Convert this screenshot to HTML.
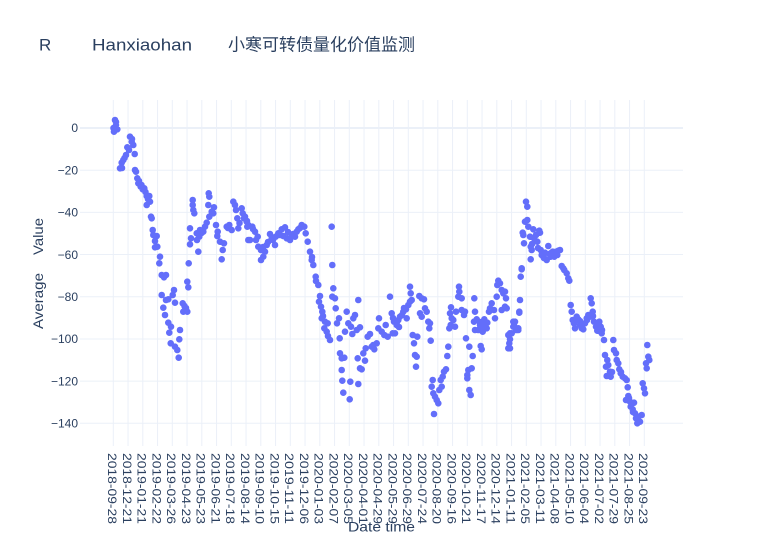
<!DOCTYPE html>
<html>
<head>
<meta charset="utf-8">
<style>
html,body{margin:0;padding:0;background:#fff;}
svg{display:block;}
text{font-family:"Liberation Sans","Noto Sans CJK SC",sans-serif;fill:#2a3f5f;}
</style>
</head>
<body>
<svg width="763" height="542" viewBox="0 0 763 542" xmlns="http://www.w3.org/2000/svg">
<rect x="0" y="0" width="763" height="542" fill="#ffffff"/>
<!-- vertical gridlines -->
<g stroke="#EBF0F8" stroke-width="1">
<line x1="113.3" y1="100" x2="113.3" y2="446"/>
<line x1="128.05" y1="100" x2="128.05" y2="446"/>
<line x1="142.8" y1="100" x2="142.8" y2="446"/>
<line x1="157.55" y1="100" x2="157.55" y2="446"/>
<line x1="172.3" y1="100" x2="172.3" y2="446"/>
<line x1="187.05" y1="100" x2="187.05" y2="446"/>
<line x1="201.8" y1="100" x2="201.8" y2="446"/>
<line x1="216.55" y1="100" x2="216.55" y2="446"/>
<line x1="231.3" y1="100" x2="231.3" y2="446"/>
<line x1="246.05" y1="100" x2="246.05" y2="446"/>
<line x1="260.8" y1="100" x2="260.8" y2="446"/>
<line x1="275.55" y1="100" x2="275.55" y2="446"/>
<line x1="290.3" y1="100" x2="290.3" y2="446"/>
<line x1="305.05" y1="100" x2="305.05" y2="446"/>
<line x1="319.8" y1="100" x2="319.8" y2="446"/>
<line x1="334.55" y1="100" x2="334.55" y2="446"/>
<line x1="349.3" y1="100" x2="349.3" y2="446"/>
<line x1="364.05" y1="100" x2="364.05" y2="446"/>
<line x1="378.8" y1="100" x2="378.8" y2="446"/>
<line x1="393.55" y1="100" x2="393.55" y2="446"/>
<line x1="408.3" y1="100" x2="408.3" y2="446"/>
<line x1="423.05" y1="100" x2="423.05" y2="446"/>
<line x1="437.8" y1="100" x2="437.8" y2="446"/>
<line x1="452.55" y1="100" x2="452.55" y2="446"/>
<line x1="467.3" y1="100" x2="467.3" y2="446"/>
<line x1="482.05" y1="100" x2="482.05" y2="446"/>
<line x1="496.8" y1="100" x2="496.8" y2="446"/>
<line x1="511.55" y1="100" x2="511.55" y2="446"/>
<line x1="526.3" y1="100" x2="526.3" y2="446"/>
<line x1="541.05" y1="100" x2="541.05" y2="446"/>
<line x1="555.8" y1="100" x2="555.8" y2="446"/>
<line x1="570.55" y1="100" x2="570.55" y2="446"/>
<line x1="585.3" y1="100" x2="585.3" y2="446"/>
<line x1="600.05" y1="100" x2="600.05" y2="446"/>
<line x1="614.8" y1="100" x2="614.8" y2="446"/>
<line x1="629.55" y1="100" x2="629.55" y2="446"/>
<line x1="644.3" y1="100" x2="644.3" y2="446"/>
</g>
<!-- horizontal gridlines -->
<g stroke="#EBF0F8" stroke-width="1">
<line x1="80" y1="170.19" x2="683" y2="170.19"/>
<line x1="80" y1="212.38" x2="683" y2="212.38"/>
<line x1="80" y1="254.56" x2="683" y2="254.56"/>
<line x1="80" y1="296.75" x2="683" y2="296.75"/>
<line x1="80" y1="338.94" x2="683" y2="338.94"/>
<line x1="80" y1="381.13" x2="683" y2="381.13"/>
<line x1="80" y1="423.31" x2="683" y2="423.31"/>
</g>
<line x1="80" y1="128" x2="683" y2="128" stroke="#EBF0F8" stroke-width="2"/>

<!-- data points -->
<path fill="none" stroke="#636efa" stroke-width="6.6" stroke-linecap="round" d="
M115 120h0M116 125h0M114 131.7h0M117.3 129.3h0M113.5 128h0M116 122h0
M130 136.7h0M131.7 141.7h0M133.3 145h0M127.3 147.3h0M134.7 154h0M126 155h0M123.3 160h0M121.7 162.7h0M120 168.3h0M122 168h0M135 170h0M136 171.7h0M124.5 158h0M129 150h0M132 139h0
M137.3 178.3h0M138.3 183.3h0M140.7 186.7h0M142.7 189.3h0M144.3 188.3h0M146.7 196h0M149.3 196h0M150 201.7h0M146.7 205h0M151 216.7h0M151.7 218.3h0M139 181h0M141.5 185h0M145.5 192h0M148 199h0
M152.7 230h0M153.3 235h0M156.7 236h0M155 241h0M157.3 246.7h0M155 247.3h0M160 256.7h0M159.3 263.3h0M161.7 275h0M166 275h0M164 277.3h0
M161.7 295h0M166 300h0M168.3 299.3h0M174 290h0M172.7 295h0M175 302.7h0M163.3 307.7h0M165 315h0M168.3 322.7h0M171 326.7h0M169.3 332.7h0M180 330h0M170.7 343.3h0M175 346.7h0M179.3 339.3h0M177.3 350h0M178.7 357.7h0
M182.7 303.3h0M185 310h0M183.3 311.7h0M187.3 311.7h0M188.3 287.3h0M187.3 281.7h0M188.7 263.3h0M190 244.3h0M191 238.3h0M190 228.3h0M192.7 200h0M193.3 210h0M194.3 213.3h0M192.7 205h0M184.5 306h0M186 308h0
M196.7 233.3h0M199.3 236.7h0M200 230h0M203.3 231.7h0M198.3 251.7h0M205 226.7h0M206.7 222.7h0M209.3 216.7h0M211.7 211.7h0M214 207.3h0M213.3 213.3h0M208.3 205h0M209.3 196.7h0M208.7 193.3h0M216 225h0M217.7 231.7h0M217.3 236h0M220 241.7h0M224 243.3h0M222.7 250h0M221.7 259.3h0M201.5 233h0M197 240h0
M226.7 226.7h0M229.3 225h0M231.7 230h0M233.3 201.7h0M235 205h0M236 210h0M237.3 218.3h0M238.3 228.3h0M241.7 208.3h0M242.7 213.3h0M244 218.3h0M246.7 221.7h0M247.3 226.7h0M248.3 240h0M228 228h0M239.5 223h0
M245 216.7h0M248.3 225h0M252.3 226.7h0M250 240h0M255 231.7h0M257.7 236.7h0M258.3 246.7h0M261 250h0M261 260h0M263.3 256.7h0M265 251.7h0M266.7 245h0M270 234h0M271.7 238.3h0M275 245h0M275.7 236.7h0M278.3 233.3h0M281.7 229.3h0M285 227.3h0M283.3 236h0M286.7 238.3h0M290 240h0M291.7 236h0M295 236.7h0M296.7 231.7h0M298.3 229.3h0M301.7 225h0M304.3 226.7h0M305.7 233.3h0M307.7 241.7h0M310 251.7h0M311.7 260h0M313.3 265h0M315.7 276.7h0M318.3 285h0M319 301.7h0M321 306.7h0M322.3 311.7h0M321.7 318.3h0M325 321.7h0M324.3 328.3h0M327.7 323.3h0M326.7 331.7h0M330 340h0M331.7 226.7h0M332.3 265h0M333.3 288.3h0M332.3 296.7h0M335 298.3h0M335.7 308.3h0M337 323.3h0M339 318.3h0M339.7 338.3h0M340 353.3h0M341.7 358.3h0M344.3 357.7h0M341.7 370h0M342.3 380.7h0M343.3 392.7h0M349.7 399.3h0M350.3 381.7h0M358.3 384h0M346.7 311.7h0M345 331.7h0M348.3 323.3h0M351 326.7h0M353.3 318.3h0M355 315h0M352.3 334h0M356.7 330h0M360 327.3h0M358.3 300h0M357.7 358.3h0M360 368.3h0M361.7 369.3h0M363.3 353.3h0M365 360.7h0M365.7 348.3h0M367.7 336.7h0M370 334h0M371.7 346.7h0M374.3 349.3h0M373.3 345h0M376.7 343.3h0M378.3 328.3h0M379 318.3h0M381.7 331.7h0M384.3 335h0M385.7 325h0M387.7 336.7h0M390 296.7h0M391.7 313.3h0M392.7 333.3h0
M273 240h0M280 235h0M288 232h0M293 234h0M300 228h0M268 242h0M263 247h0M256 240h0M253 229h0M247 221h0M312 257h0M316 281h0M320 296h0M323 316h0M328 336h0
M394 321.7h0M395 333.3h0M396.7 325h0M398.3 320h0M400 316.7h0M403.3 311.7h0M406 309.3h0M406.7 318.3h0M408.3 305h0M410 301.7h0M411.7 300h0M410 286.7h0M410.7 293.3h0M412.7 335h0M414 343.3h0M417.3 336.7h0M415 355h0M416.7 356.7h0M416 366.7h0M419.3 296h0M421.7 298.3h0M424 299.3h0M420 313.3h0M421.7 316.7h0M425 308.3h0M426.7 311.7h0M428.3 321.7h0M429.3 328.3h0M430 323.3h0M430.7 340.7h0M432.7 380h0M431.7 386.7h0M433.3 393.3h0M435 396.7h0M436.7 400h0M438.3 403.3h0M434 414h0M439.3 390h0M441.7 386.7h0M440.7 380h0M442.7 376.7h0M444 371.7h0M446 369.3h0M447.3 356h0M448.3 346.7h0M449.3 328.3h0M450.7 325h0M450 313.3h0M451.7 318.3h0M451 307.3h0M453.3 320h0M455 326.7h0M456 311.7h0M458.3 296.7h0M459.3 291.7h0M459 286.7h0M461.7 298.3h0M461.7 310h0M464 315h0M465 311.7h0M466 338.3h0M467.3 375h0M468.3 370h0M467.3 378.3h0M469.3 390h0M470.7 395h0M469.3 346.7h0M471.7 368.3h0M472.7 356h0M474 321.7h0M475 311.7h0M474.3 298.3h0M476.7 319.3h0M478.3 330h0M480 325h0M480.7 346h0M481.7 349.3h0M482.7 331.7h0M484.3 319.3h0M485 325h0M486.7 328.3h0M487.3 322.7h0M489 311.7h0M490 308.3h0M491.7 303.3h0M494 310h0M495 318.3h0M496.7 296.7h0M497.3 285h0M498.3 280.7h0M500 283.3h0M501.7 290h0M503.3 293.3h0M505 291.7h0M501.7 310h0M505 306.7h0M506 298.3h0M506.7 308.3h0M508.3 335h0M509.3 343.3h0M508.3 348.3h0M510 339.3h0M511.7 333.3h0M513.3 321.7h0M514 325h0M516 330h0M518.3 328.3h0M519.3 311.7h0M520 300h0M520.7 276.7h0M521.7 269.3h0
M402 315h0M397 322h0M393 318h0M404 308h0M399 327h0M480 322h0M483 326h0M475 330h0
M510 333.3h0M510 348.3h0M513.3 326.7h0M515 321.7h0M518.3 330h0M519.3 312.7h0M520 300h0M520.7 276.7h0M521.7 268.3h0M523.3 235h0M524 243.3h0M522.7 232.7h0M525 221.7h0M527.3 220h0M526 201.7h0M527.3 206.7h0M528.3 226.7h0M530 236.7h0M530.7 246.7h0M531.7 250h0M530.7 259.3h0M533.3 229.3h0M534 238.3h0M536 235h0M537.3 241.7h0M539.3 230.7h0M540 232.7h0M540.7 250h0M541.7 255h0M543.3 256.7h0M545 252.7h0M546.7 260h0M548.3 246h0M549.3 254h0M550.7 256.7h0M552.7 251.7h0M554.3 256.7h0M556 251.7h0M557.3 255h0M558.3 250.7h0M560 250h0M561.7 266h0M563.3 268.3h0M564.3 270h0M566.7 273.3h0M568.3 278.3h0M569.3 280.7h0M570.7 305h0M571.7 311.7h0M572.7 320h0M574 323.3h0M575 328.3h0M576.7 316.7h0M578.3 319.3h0M580 325h0M581.7 328.3h0M583.3 329.3h0M585 323.3h0M586.7 318.3h0M588.3 315h0M590 316.7h0M590.7 298.3h0M591.7 303.3h0M592.7 311.7h0M594 321.7h0M596 326.7h0M597.3 330.7h0M599.3 321.7h0M600.7 326.7h0M601.7 333.3h0M604 340h0M605 355h0M607.3 360h0M608.3 365h0M606 366.7h0M606.7 376h0M610 371.7h0M610.7 376.7h0M613.3 340h0M614 350h0M616 353.3h0M616.7 360h0M618.3 363.3h0M619.3 369.3h0M620.7 373.3h0M622.7 376.7h0M625 378.3h0M626.7 380h0M627.7 387.3h0M628.3 396h0M626 400h0M630 401.7h0M630.7 406.7h0M632.7 409.3h0M634 402.7h0M635 413.3h0M636 418.3h0M637.3 423.3h0M638.3 416.7h0M640 421.7h0M641.7 415h0M642.7 383.3h0M644 388.3h0M645 393.3h0M646 363.3h0M646.7 368.3h0M647.3 345h0M648.3 356.7h0M649.3 360h0
M532 244h0M538 248h0M544 258h0M551 253h0M556 254h0M580 321h0M587 320h0M593 316h0M602 330h0M612 372h0M621 372h0M629 398h0M633 412h0
"/>

<!-- y tick labels -->
<g font-size="12" text-anchor="end">
<text x="78" y="132.2">0</text>
<text x="78" y="174.4">−20</text>
<text x="78" y="216.6">−40</text>
<text x="78" y="258.8">−60</text>
<text x="78" y="301">−80</text>
<text x="78" y="343.1">−100</text>
<text x="78" y="385.3">−120</text>
<text x="78" y="427.5">−140</text>
</g>

<!-- x tick labels -->
<g font-size="12">
<text transform="translate(108.1,453) rotate(90)" textLength="71" lengthAdjust="spacingAndGlyphs">2018-09-28</text>
<text transform="translate(122.85,453) rotate(90)" textLength="71" lengthAdjust="spacingAndGlyphs">2018-12-21</text>
<text transform="translate(137.6,453) rotate(90)" textLength="71" lengthAdjust="spacingAndGlyphs">2019-01-21</text>
<text transform="translate(152.35,453) rotate(90)" textLength="71" lengthAdjust="spacingAndGlyphs">2019-02-22</text>
<text transform="translate(167.1,453) rotate(90)" textLength="71" lengthAdjust="spacingAndGlyphs">2019-03-26</text>
<text transform="translate(181.85,453) rotate(90)" textLength="71" lengthAdjust="spacingAndGlyphs">2019-04-23</text>
<text transform="translate(196.6,453) rotate(90)" textLength="71" lengthAdjust="spacingAndGlyphs">2019-05-23</text>
<text transform="translate(211.35,453) rotate(90)" textLength="71" lengthAdjust="spacingAndGlyphs">2019-06-21</text>
<text transform="translate(226.1,453) rotate(90)" textLength="71" lengthAdjust="spacingAndGlyphs">2019-07-18</text>
<text transform="translate(240.85,453) rotate(90)" textLength="71" lengthAdjust="spacingAndGlyphs">2019-08-14</text>
<text transform="translate(255.6,453) rotate(90)" textLength="71" lengthAdjust="spacingAndGlyphs">2019-09-10</text>
<text transform="translate(270.35,453) rotate(90)" textLength="71" lengthAdjust="spacingAndGlyphs">2019-10-15</text>
<text transform="translate(285.1,453) rotate(90)" textLength="71" lengthAdjust="spacingAndGlyphs">2019-11-11</text>
<text transform="translate(299.85,453) rotate(90)" textLength="71" lengthAdjust="spacingAndGlyphs">2019-12-06</text>
<text transform="translate(314.6,453) rotate(90)" textLength="71" lengthAdjust="spacingAndGlyphs">2020-01-03</text>
<text transform="translate(329.35,453) rotate(90)" textLength="71" lengthAdjust="spacingAndGlyphs">2020-02-07</text>
<text transform="translate(344.1,453) rotate(90)" textLength="71" lengthAdjust="spacingAndGlyphs">2020-03-05</text>
<text transform="translate(358.85,453) rotate(90)" textLength="71" lengthAdjust="spacingAndGlyphs">2020-04-01</text>
<text transform="translate(373.6,453) rotate(90)" textLength="71" lengthAdjust="spacingAndGlyphs">2020-04-29</text>
<text transform="translate(388.35,453) rotate(90)" textLength="71" lengthAdjust="spacingAndGlyphs">2020-05-29</text>
<text transform="translate(403.1,453) rotate(90)" textLength="71" lengthAdjust="spacingAndGlyphs">2020-06-29</text>
<text transform="translate(417.85,453) rotate(90)" textLength="71" lengthAdjust="spacingAndGlyphs">2020-07-24</text>
<text transform="translate(432.6,453) rotate(90)" textLength="71" lengthAdjust="spacingAndGlyphs">2020-08-20</text>
<text transform="translate(447.35,453) rotate(90)" textLength="71" lengthAdjust="spacingAndGlyphs">2020-09-16</text>
<text transform="translate(462.1,453) rotate(90)" textLength="71" lengthAdjust="spacingAndGlyphs">2020-10-21</text>
<text transform="translate(476.85,453) rotate(90)" textLength="71" lengthAdjust="spacingAndGlyphs">2020-11-17</text>
<text transform="translate(491.6,453) rotate(90)" textLength="71" lengthAdjust="spacingAndGlyphs">2020-12-14</text>
<text transform="translate(506.35,453) rotate(90)" textLength="71" lengthAdjust="spacingAndGlyphs">2021-01-11</text>
<text transform="translate(521.1,453) rotate(90)" textLength="71" lengthAdjust="spacingAndGlyphs">2021-02-05</text>
<text transform="translate(535.85,453) rotate(90)" textLength="71" lengthAdjust="spacingAndGlyphs">2021-03-11</text>
<text transform="translate(550.6,453) rotate(90)" textLength="71" lengthAdjust="spacingAndGlyphs">2021-04-08</text>
<text transform="translate(565.35,453) rotate(90)" textLength="71" lengthAdjust="spacingAndGlyphs">2021-05-10</text>
<text transform="translate(580.1,453) rotate(90)" textLength="71" lengthAdjust="spacingAndGlyphs">2021-06-04</text>
<text transform="translate(594.85,453) rotate(90)" textLength="71" lengthAdjust="spacingAndGlyphs">2021-07-02</text>
<text transform="translate(609.6,453) rotate(90)" textLength="71" lengthAdjust="spacingAndGlyphs">2021-07-29</text>
<text transform="translate(624.35,453) rotate(90)" textLength="71" lengthAdjust="spacingAndGlyphs">2021-08-25</text>
<text transform="translate(639.1,453) rotate(90)" textLength="71" lengthAdjust="spacingAndGlyphs">2021-09-23</text>
</g>

<!-- axis titles -->
<text x="348" y="531.5" font-size="14" textLength="67" lengthAdjust="spacingAndGlyphs">Date time</text>
<text transform="translate(43,329) rotate(-90)" font-size="14" textLength="56" lengthAdjust="spacingAndGlyphs">Average</text>
<text transform="translate(43,255) rotate(-90)" font-size="14" textLength="37" lengthAdjust="spacingAndGlyphs">Value</text>

<!-- title -->
<text x="39" y="50.5" font-size="17">R</text>
<text x="92" y="50.5" font-size="17" textLength="100" lengthAdjust="spacingAndGlyphs">Hanxiaohan</text>
<text x="228" y="50.5" font-size="17" textLength="187" lengthAdjust="spacingAndGlyphs">小寒可转债量化价值监测</text>
</svg>
</body>
</html>
